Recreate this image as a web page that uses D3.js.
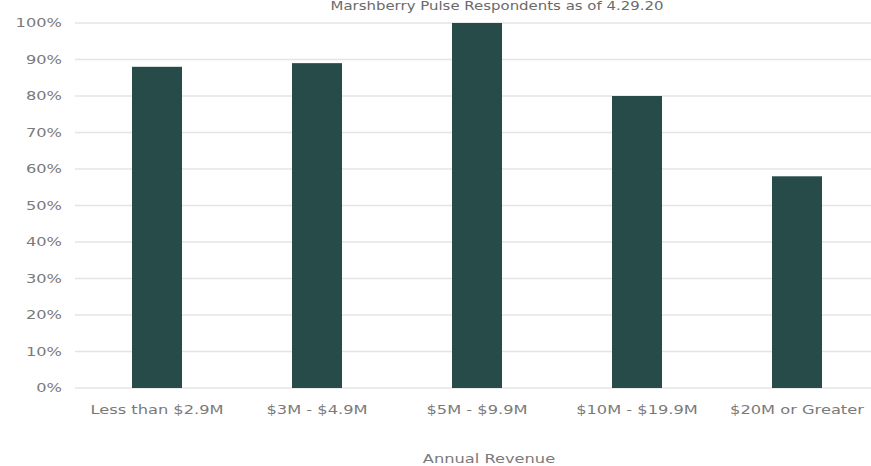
<!DOCTYPE html>
<html>
<head>
<meta charset="utf-8">
<script src="https://cdn.jsdelivr.net/npm/d3@7"></script>
<style>
  body { margin: 0; background: #fff; }
  svg { display: block; font-family: "DejaVu Sans", Verdana, sans-serif; }
</style>
</head>
<body>
<svg id="chart"></svg>
<script>
// data
const categories = ['Less than $2.9M', '$3M - $4.9M', '$5M - $9.9M', '$10M - $19.9M', '$20M or Greater'];
const values = [0.88, 0.89, 1.00, 0.80, 0.58];
const yTicks = [0, 0.1, 0.2, 0.3, 0.4, 0.5, 0.6, 0.7, 0.8, 0.9, 1.0];

const width = 871, height = 466;
const stretch = 1.3;  // source text looks widened

const svg = d3.select('#chart')
  .attr('width', width)
  .attr('height', height);

const x = d3.scaleBand()
  .domain(categories)
  .range([77, 877])
  .paddingInner(0.6875)
  .paddingOuter(0.34375);

const y = d3.scaleLinear()
  .domain([0, 1])
  .range([388, 23]);

// gridlines
svg.append('g')
  .selectAll('line')
  .data(yTicks)
  .enter()
  .append('line')
  .attr('x1', 75)
  .attr('x2', width)
  .attr('y1', d => y(d))
  .attr('y2', d => y(d))
  .attr('stroke', '#e4e4e4')
  .attr('stroke-width', 1.5);

// y labels
svg.append('g')
  .selectAll('text')
  .data(yTicks)
  .enter()
  .append('text')
  .attr('transform', d => 'translate(62,' + y(d) + ') scale(' + stretch + ',1)')
  .attr('dy', '0.35em')
  .attr('text-anchor', 'end')
  .attr('font-size', 12.5)
  .attr('fill', '#7a7a7a')
  .text(d3.format('.0%'));

// bars
svg.append('g')
  .selectAll('rect')
  .data(values)
  .enter()
  .append('rect')
  .attr('x', (d, i) => x(categories[i]))
  .attr('width', x.bandwidth())
  .attr('y', d => y(d))
  .attr('height', d => y(0) - y(d))
  .attr('fill', '#264b49');

// x labels
svg.append('g')
  .selectAll('text')
  .data(categories)
  .enter()
  .append('text')
  .attr('transform', d => 'translate(' + (x(d) + x.bandwidth() / 2) + ',410) scale(' + stretch + ',1)')
  .attr('dy', '0.35em')
  .attr('text-anchor', 'middle')
  .attr('font-size', 12.5)
  .attr('fill', '#7a7a7a')
  .text(d => d);

// title (cut off at the top in the source, kept just inside here)
svg.append('text')
  .attr('transform', 'translate(497,10) scale(' + stretch + ',1)')
  .attr('text-anchor', 'middle')
  .attr('font-size', 11.5)
  .attr('fill', '#6a6a6a')
  .text('Marshberry Pulse Respondents as of 4.29.20');

// axis title
svg.append('text')
  .attr('transform', 'translate(489,463) scale(' + stretch + ',1)')
  .attr('text-anchor', 'middle')
  .attr('font-size', 12.5)
  .attr('fill', '#7a7a7a')
  .text('Annual Revenue');
</script>
</body>
</html>
